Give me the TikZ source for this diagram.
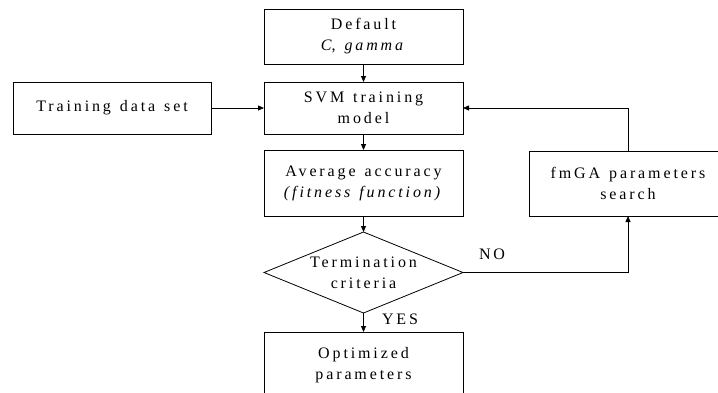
\documentclass[tikz,border=0pt]{standalone}
\usepackage{fontspec}
\setmainfont{Liberation Serif}[LetterSpace=18,WordSpace=1.3]
\usetikzlibrary{arrows.meta,shapes.geometric}
\begin{document}
\begin{tikzpicture}[x=1pt,y=-1pt,
  font=\fontsize{16}{21}\selectfont,
  every node/.style={inner sep=0pt,outer sep=0pt},
  stepbox/.style={draw,line width=0.8pt,minimum width=199pt,align=center},
  decision/.style={draw,line width=0.8pt,diamond,aspect=2.46,minimum width=199pt,minimum height=81pt,align=center},
  flow/.style={line width=0.8pt,-{Triangle[length=6pt,width=5pt]}},
  lbl/.style={font=\fontsize{16}{21}\selectfont}]
\useasboundingbox (0,0) rectangle (718,392);
\clip (0,0) rectangle (718,392);
\fill[white] (0,0) rectangle (718,392);

\node[stepbox,minimum height=55pt] (def) at (363.5,36.5) {Default\\\textit{C}, \textit{gamma}};
\node[stepbox,minimum height=52pt] (svm) at (363.5,108) {SVM training\\model};
\node[stepbox,minimum height=52pt,minimum width=198pt] (train) at (112,108) {Training data set};
\node[stepbox,minimum height=66pt] (avg) at (363.5,183) {Average accuracy\\\textit{(fitness function)}};
\node[stepbox,minimum height=65pt,minimum width=198pt] (ga) at (628,183.5) {fmGA parameters\\search};
\node[decision] (term) at (363.5,272.5) {Termination\\criteria};
\node[stepbox,minimum height=66pt] (opt) at (363.5,365) {Optimized\\parameters};

\coordinate (nocorner) at (ga.south |- term.east);
\coordinate (upcorner) at (ga.north |- svm.east);

\draw[flow] (def) -- (svm);
\draw[flow] (svm) -- (avg);
\draw[flow] (avg) -- (term);
\draw[flow] (term) -- (opt);
\draw[flow] (train) -- (svm);
\draw[flow] (term.east) -- (nocorner) -- (ga.south);
\draw[flow] (ga.north) -- (upcorner) -- (svm.east);

\node[lbl,anchor=center] (no) at (492,254) {NO};
\node[lbl,anchor=center] (yes) at (400,319) {YES};
\end{tikzpicture}
\end{document}
